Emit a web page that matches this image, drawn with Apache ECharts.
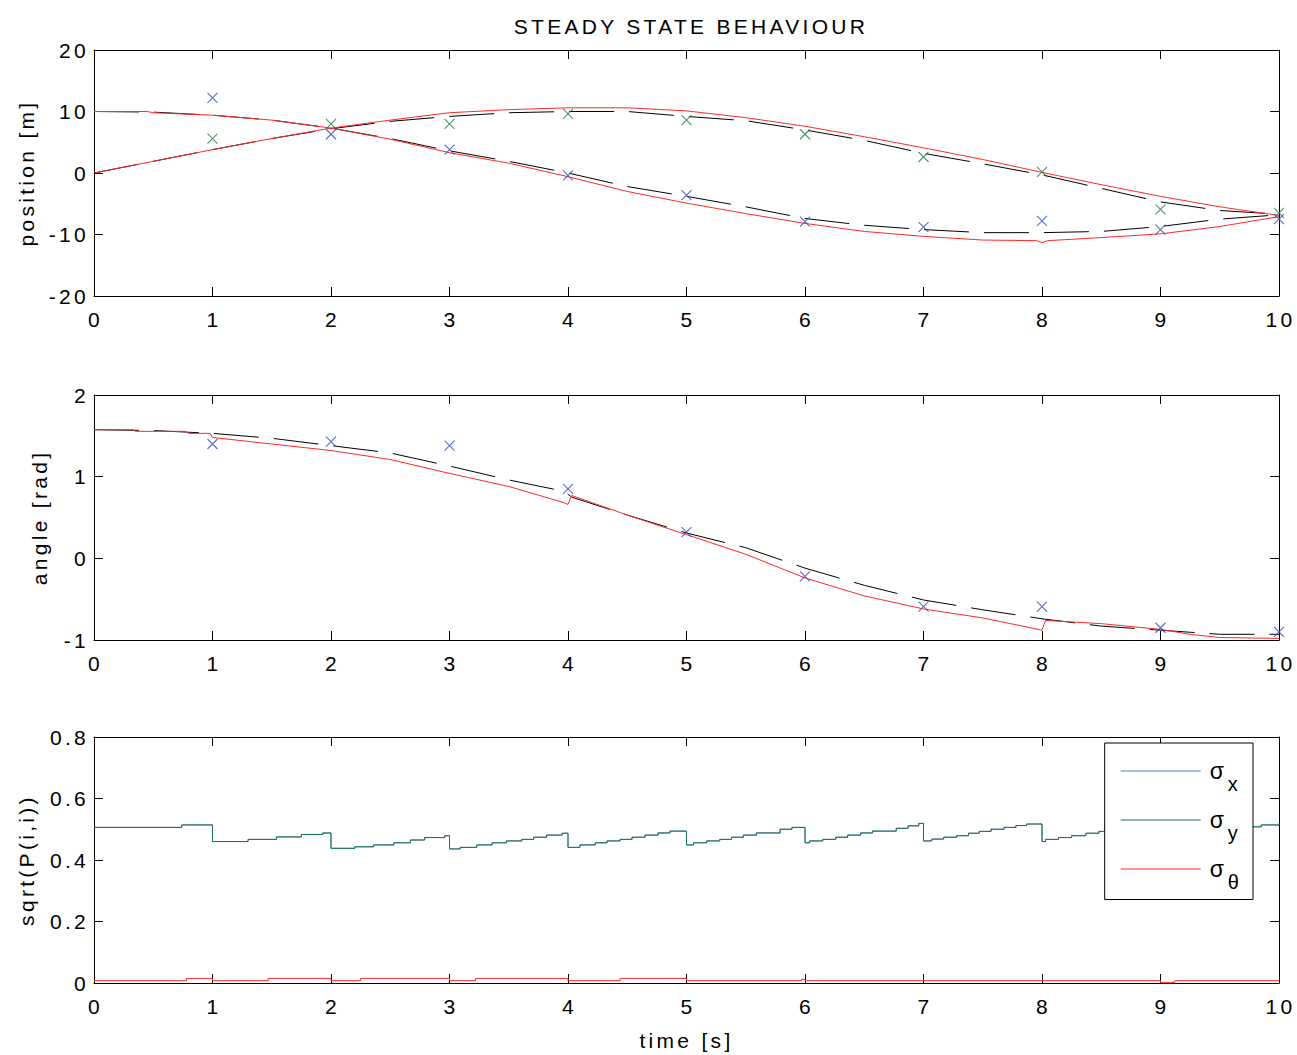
<!DOCTYPE html>
<html>
<head>
<meta charset="UTF-8">
<title>Steady state behaviour</title>
<style>
  html, body { margin: 0; padding: 0; background: #fff; }
  #chart { width: 1297px; height: 1055px; }
  /* the original figure uses widely spaced lettering */
  #chart text { letter-spacing: 3.3px; }
</style>
<script src="https://cdn.jsdelivr.net/npm/echarts@6/dist/echarts.min.js"></script>
</head>
<body>
<div id="chart"></div>
<script>
// ---- data: [time s, value] ----
// position x (starts at 10), true and estimated
var posXTrue = [[0,10],[0.45,10],[0.5,9.8],[1,9.4],[1.5,8.6],[2,7.3],[2.5,5.5],[3,3.3],[3.5,1.6],[4,-0.6],[4.5,-3.0],[5,-4.9],[5.5,-6.6],[6,-8.2],[6.5,-9.5],[7,-10.3],[7.5,-10.9],[7.95,-11.0],[8,-11.3],[8.05,-11.0],[8.5,-10.5],[9,-9.9],[9.5,-8.7],[10,-7.1]];
var posXEst = [[0,10],[0.5,9.9],[1,9.4],[1.5,8.6],[2,7.3],[2.5,5.6],[3,3.6],[3.5,1.9],[4,0.0],[4.5,-2.2],[5,-3.8],[5.5,-5.5],[6,-7.4],[6.5,-8.5],[7,-9.2],[7.5,-9.7],[8,-9.7],[8.5,-9.5],[9,-8.7],[9.5,-7.5],[10,-6.8]];
// position y (starts at 0), true and estimated
var posYTrue = [[0,0],[0.5,1.9],[1,3.8],[1.5,5.6],[2,7.3],[2.5,8.6],[3,9.8],[3.5,10.3],[4,10.6],[4.5,10.6],[5,10.1],[5.5,9.0],[6,7.6],[6.5,5.9],[7,4.1],[7.5,2.2],[8,0.1],[8.5,-1.9],[9,-3.8],[9.5,-5.5],[10,-6.9]];
var posYEst = [[0,0],[0.5,1.9],[1,3.8],[1.5,5.6],[2,7.2],[2.5,8.4],[3,9.2],[3.5,9.8],[4,10.0],[4.5,10.0],[5,9.2],[5.5,8.5],[6,7.0],[6.5,5.3],[7,3.2],[7.5,1.5],[8,-0.3],[8.5,-2.5],[9,-4.7],[9.5,-6.1],[10,-6.7]];
// measurements (crosses)
var measX = [[1,12.2],[2,6.3],[3,3.8],[4,-0.4],[5,-3.6],[6,-7.9],[7,-8.8],[8,-7.8],[9,-9.2],[10,-7.5]];
var measY = [[1,5.6],[2,8.0],[3,8.0],[4,9.6],[5,8.6],[6,6.3],[7,2.6],[8,0.2],[9,-5.9],[10,-6.5]];

// heading angle
var angleTrue = [[0,1.575],[0.33,1.575],[0.35,1.555],[0.77,1.555],[0.8,1.53],[0.98,1.53],[1,1.48],[1.5,1.40],[2,1.32],[2.5,1.21],[3,1.04],[3.5,0.88],[3.97,0.68],[4,0.66],[4.03,0.77],[4.5,0.53],[5,0.29],[5.5,0.05],[6,-0.24],[6.5,-0.46],[7,-0.62],[7.5,-0.73],[7.97,-0.87],[8,-0.88],[8.03,-0.76],[8.5,-0.80],[9,-0.87],[9.25,-0.93],[9.5,-0.97],[10,-0.98]];
var angleEst = [[0,1.575],[0.5,1.565],[1,1.53],[1.5,1.47],[2,1.38],[2.5,1.29],[3,1.13],[3.5,0.96],[3.97,0.82],[4.03,0.75],[4.5,0.53],[5,0.31],[5.5,0.13],[6,-0.12],[6.5,-0.33],[7,-0.51],[7.5,-0.63],[8,-0.74],[8.5,-0.83],[9,-0.88],[9.5,-0.93],[10,-0.93]];
var angleMeas = [[1,1.40],[2,1.43],[3,1.38],[4,0.85],[5,0.32],[6,-0.22],[7,-0.59],[8,-0.59],[9,-0.85],[10,-0.90]];

// standard deviations, value holds until the next time
var sigmaX = [[0,0.506],[0.74,0.514],[1,0.46],[1.3,0.467],[1.54,0.475],[1.75,0.483],[1.93,0.488],[2,0.438],[2.2,0.443],[2.36,0.449],[2.53,0.456],[2.67,0.465],[2.79,0.473],[2.96,0.479],[3,0.436],[3.09,0.441],[3.23,0.449],[3.36,0.456],[3.48,0.462],[3.61,0.467],[3.71,0.474],[3.82,0.481],[3.95,0.487],[4,0.441],[4.1,0.449],[4.23,0.456],[4.33,0.462],[4.44,0.467],[4.54,0.474],[4.65,0.481],[4.76,0.488],[4.86,0.494],[5,0.449],[5.06,0.456],[5.17,0.462],[5.28,0.467],[5.38,0.474],[5.48,0.481],[5.59,0.488],[5.79,0.5],[5.89,0.506],[6,0.456],[6.04,0.462],[6.15,0.467],[6.26,0.474],[6.36,0.481],[6.47,0.488],[6.57,0.494],[6.77,0.503],[6.87,0.511],[6.96,0.519],[7,0.462],[7.07,0.468],[7.17,0.474],[7.28,0.479],[7.38,0.487],[7.47,0.493],[7.57,0.5],[7.68,0.506],[7.78,0.512],[7.87,0.517],[8,0.46],[8.03,0.467],[8.14,0.473],[8.25,0.479],[8.37,0.487],[8.48,0.493],[8.6,0.499],[8.75,0.506],[8.9,0.512],[9,0.46],[9.15,0.47],[9.35,0.48],[9.55,0.495],[9.75,0.508],[9.85,0.514],[10,0.519]];
var sigmaY = sigmaX;
var sigmaTheta = [[0,0.0075],[0.78,0.015],[1,0.0075],[1.47,0.015],[2,0.0075],[2.25,0.015],[3,0.0075],[3.22,0.015],[4,0.0075],[4.44,0.015],[5,0.0075],[5.97,0.012],[6,0.0075],[9,0.002],[9.12,0.0075],[10,0.0075]];

var FONT = 'Liberation Sans';
var BLUE = '#3347bd', GREEN = '#1e7c42', RED = '#ff2a2a';

var chart = echarts.init(document.getElementById('chart'), null, {renderer: 'svg'});

var grids = [
    {left: 94, top: 50, width: 1185, height: 246},
    {left: 94, top: 395, width: 1185, height: 245},
    {left: 94, top: 737, width: 1185, height: 246}
];

var tick = {show: true, inside: true, length: 9, lineStyle: {color: '#000', width: 1}};
var line = {show: true, onZero: false, lineStyle: {color: '#000', width: 1}};
var label = {color: '#000', fontSize: 21, fontFamily: FONT};

var xAxes = [], yAxes = [];
var yRanges = [[-20, 20, 10, 'position [m]', 57], [-1, 2, 1, 'angle [rad]', 44], [0, 0.8, 0.2, 'sqrt(P(i,i))', 57]];
grids.forEach(function (g, i) {
    xAxes.push({
        type: 'value', gridIndex: i, min: 0, max: 10, interval: 1, position: 'bottom',
        axisLine: line, axisTick: tick, splitLine: {show: false},
        axisLabel: Object.assign({margin: 13, padding: [0, 0, 0, 3]}, label),
        name: i === 2 ? 'time [s]' : '', nameLocation: 'middle', nameGap: 47,
        nameTextStyle: label
    });
    xAxes.push({
        type: 'value', gridIndex: i, min: 0, max: 10, interval: 1, position: 'top',
        axisLine: line, axisTick: tick, splitLine: {show: false}, axisLabel: {show: false}
    });
    var r = yRanges[i];
    yAxes.push({
        type: 'value', gridIndex: i, min: r[0], max: r[1], interval: r[2], position: 'left',
        axisLine: line, axisTick: tick, splitLine: {show: false},
        axisLabel: Object.assign({margin: 5}, label),
        name: r[3], nameLocation: 'middle', nameRotate: 90, nameGap: r[4],
        nameTextStyle: label
    });
    yAxes.push({
        type: 'value', gridIndex: i, min: r[0], max: r[1], interval: r[2], position: 'right',
        axisLine: line, axisTick: tick, splitLine: {show: false}, axisLabel: {show: false}
    });
});

function curve(name, data, axis, color, dashed) {
    return {
        name: name, type: 'line', data: data, xAxisIndex: axis * 2, yAxisIndex: axis * 2,
        symbol: 'none', silent: true,
        lineStyle: {color: color, width: 1, type: dashed ? [45, 15] : 'solid'},
        itemStyle: {color: color}
    };
}
function cross(name, data, axis, color) {
    return {
        name: name, type: 'scatter', data: data, xAxisIndex: axis * 2, yAxisIndex: axis * 2,
        symbol: 'path://M0 0L10 10M10 0L0 10', symbolSize: 10, z: 5,
        itemStyle: {color: 'rgba(0,0,0,0)', borderColor: color, borderWidth: 1.1}
    };
}
function stairs(name, data, color) {
    var s = curve(name, data, 2, color, false);
    s.step = 'end';
    return s;
}

var option = {
    animation: false,
    backgroundColor: '#fff',
    title: {
        text: 'STEADY STATE BEHAVIOUR', left: 686, top: 11, textAlign: 'center',
        textStyle: {color: '#000', fontSize: 21, fontWeight: 'normal', fontFamily: FONT}
    },
    grid: grids,
    xAxis: xAxes,
    yAxis: yAxes,
    legend: {
        data: ['σx', 'σy', 'σθ'],
        orient: 'vertical', right: 44, top: 743,
        // a thin line sitting low in a taller icon box, so it lines up with the σ
        icon: 'path://M0 0H0.01V0.01H0Z M0 25H80V26H0Z',
        itemWidth: 80, itemHeight: 26, itemGap: 1,
        padding: [2.5, 14, 8, 16],
        borderColor: '#000', borderWidth: 1, backgroundColor: '#fff',
        selectedMode: false, z: 10,
        formatter: function (name) { return '{s|σ}{b|' + name.slice(1) + '}'; },
        textStyle: {
            color: '#000',
            rich: {
                s: {fontSize: 23, fontFamily: FONT, verticalAlign: 'top', lineHeight: 22, padding: [12, 0, 0, 4]},
                b: {fontSize: 20, fontFamily: FONT, verticalAlign: 'top', lineHeight: 20, padding: [26, 0, 0, 4]}
            }
        }
    },
    series: [
        curve('x estimate', posXEst, 0, '#000', true),
        curve('y estimate', posYEst, 0, '#000', true),
        curve('x true', posXTrue, 0, RED, false),
        curve('y true', posYTrue, 0, RED, false),
        cross('x measured', measX, 0, BLUE),
        cross('y measured', measY, 0, GREEN),

        curve('angle estimate', angleEst, 1, '#000', true),
        curve('angle true', angleTrue, 1, RED, false),
        cross('angle measured', angleMeas, 1, BLUE),

        stairs('σx', sigmaX, '#5a78c8'),
        stairs('σy', sigmaY, '#1f7450'),
        stairs('σθ', sigmaTheta, RED)
    ]
};
chart.setOption(option);
</script>
</body>
</html>
